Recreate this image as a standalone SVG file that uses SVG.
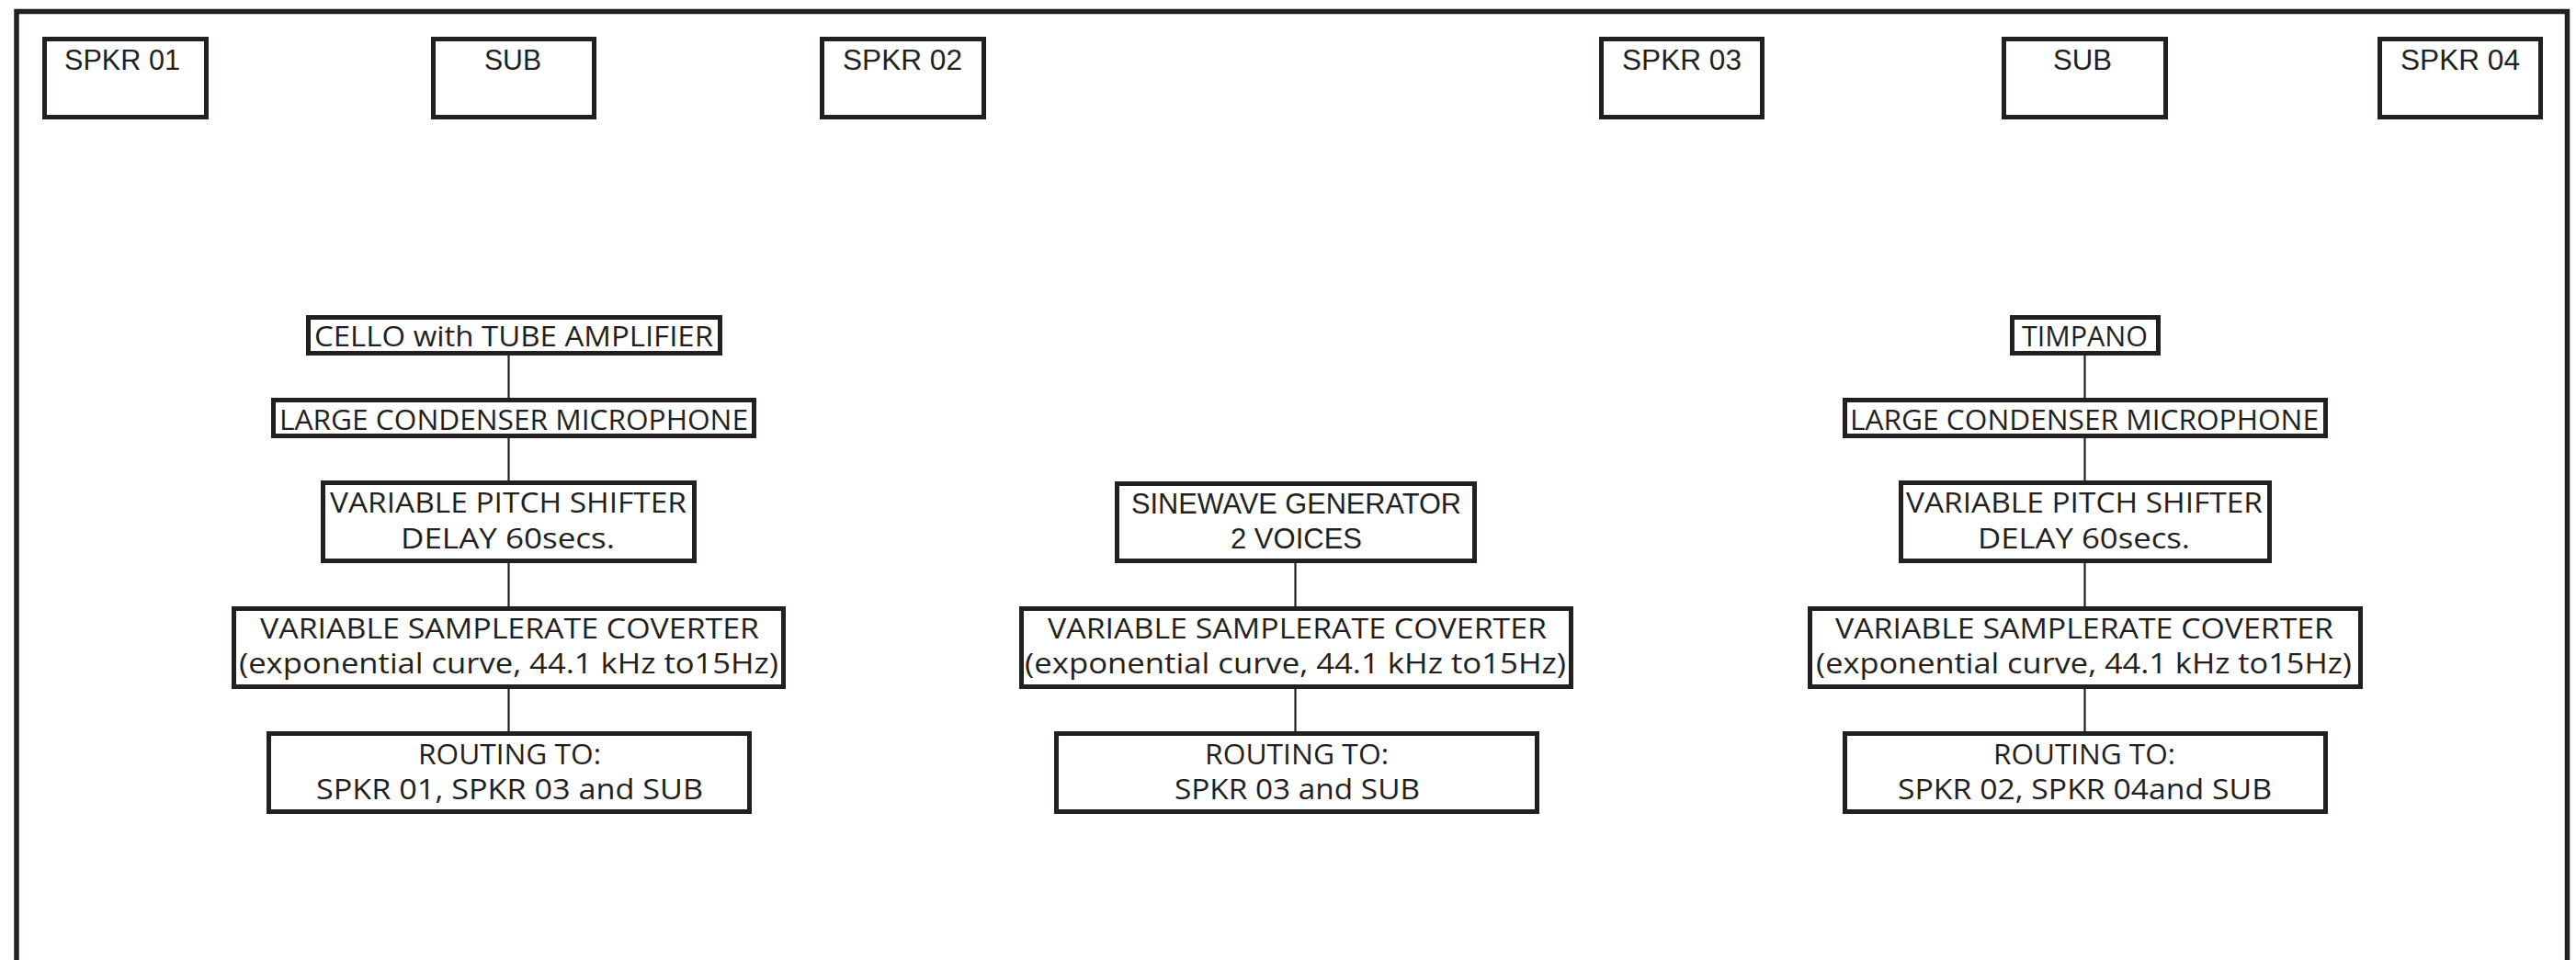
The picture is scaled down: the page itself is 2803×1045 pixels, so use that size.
<svg xmlns="http://www.w3.org/2000/svg" width="2803" height="1045" viewBox="0 0 2803 1045">
<style>
.box{fill:#fff;stroke:#231f20;stroke-width:5}
.frame{fill:none;stroke:#231f20;stroke-width:5.5}
.con{stroke:#231f20;stroke-width:2.2;fill:none}
text{font-family:"Open Sans","Liberation Sans",sans-serif;font-size:31px;fill:#231f20;text-anchor:middle}
.cond{font-family:"Liberation Sans Narrow","Liberation Sans",sans-serif}
.top{font-size:32px}
</style>
<rect width="2803" height="1045" fill="#fff"/>
<path class="frame" d="M18,1045 V12.5 H2793.5 V1045"/>

<g id="connectors">
<line class="con" x1="553.5" y1="387" x2="553.5" y2="433"/>
<line class="con" x1="553.5" y1="477" x2="553.5" y2="523"/>
<line class="con" x1="553.5" y1="613" x2="553.5" y2="660"/>
<line class="con" x1="553.5" y1="750" x2="553.5" y2="796"/>
<line class="con" x1="1409.5" y1="613" x2="1409.5" y2="660"/>
<line class="con" x1="1409.5" y1="750" x2="1409.5" y2="796"/>
<line class="con" x1="2268.5" y1="387" x2="2268.5" y2="433"/>
<line class="con" x1="2268.5" y1="477" x2="2268.5" y2="523"/>
<line class="con" x1="2268.5" y1="613" x2="2268.5" y2="660"/>
<line class="con" x1="2268.5" y1="750" x2="2268.5" y2="796"/>
</g>

<g id="spkr01"><rect class="box" x="48.5" y="42.5" width="176" height="85"/><text class="cond top" x="133" y="76" textLength="126" lengthAdjust="spacingAndGlyphs">SPKR 01</text></g>
<g id="sub1"><rect class="box" x="471.5" y="42.5" width="175" height="85"/><text class="cond top" x="558" y="76" textLength="62" lengthAdjust="spacingAndGlyphs">SUB</text></g>
<g id="spkr02"><rect class="box" x="894.5" y="42.5" width="176" height="85"/><text class="cond top" x="982" y="76" textLength="130" lengthAdjust="spacingAndGlyphs">SPKR 02</text></g>
<g id="spkr03"><rect class="box" x="1742.5" y="42.5" width="175" height="85"/><text class="cond top" x="1830" y="76" textLength="130" lengthAdjust="spacingAndGlyphs">SPKR 03</text></g>
<g id="sub2"><rect class="box" x="2180.5" y="42.5" width="176" height="85"/><text class="cond top" x="2266" y="76" textLength="64" lengthAdjust="spacingAndGlyphs">SUB</text></g>
<g id="spkr04"><rect class="box" x="2589.5" y="42.5" width="175" height="85"/><text class="cond top" x="2677" y="76" textLength="130" lengthAdjust="spacingAndGlyphs">SPKR 04</text></g>

<g id="cello"><rect class="box" x="335.5" y="345.5" width="448" height="39"/><text x="559" y="377" textLength="434" lengthAdjust="spacingAndGlyphs">CELLO with TUBE AMPLIFIER</text></g>
<g id="mic1"><rect class="box" x="297.5" y="435.5" width="523" height="39"/><text x="559" y="468" textLength="510" lengthAdjust="spacingAndGlyphs">LARGE CONDENSER MICROPHONE</text></g>
<g id="pitch1"><rect class="box" x="351.5" y="525.5" width="404" height="85"/><text x="553" y="558" textLength="388" lengthAdjust="spacingAndGlyphs">VARIABLE PITCH SHIFTER</text><text x="552.5" y="597" textLength="233" lengthAdjust="spacingAndGlyphs">DELAY 60secs.</text></g>
<g id="src1"><rect class="box" x="254.5" y="662.5" width="598" height="85"/><text x="554.5" y="695" textLength="543" lengthAdjust="spacingAndGlyphs">VARIABLE SAMPLERATE COVERTER</text><text x="553.5" y="733" textLength="587" lengthAdjust="spacingAndGlyphs">(exponential curve, 44.1 kHz to15Hz)</text></g>
<g id="route1"><rect class="box" x="292.5" y="798.5" width="523" height="85"/><text x="554.5" y="832" textLength="199" lengthAdjust="spacingAndGlyphs">ROUTING TO:</text><text x="554.5" y="870" textLength="421" lengthAdjust="spacingAndGlyphs">SPKR 01, SPKR 03 and SUB</text></g>

<g id="sine"><rect class="box" x="1215.5" y="526.5" width="389" height="84"/><text class="cond" x="1410.5" y="559" textLength="359" lengthAdjust="spacingAndGlyphs">SINEWAVE GENERATOR</text><text class="cond" x="1410.5" y="597" textLength="143" lengthAdjust="spacingAndGlyphs">2 VOICES</text></g>
<g id="src2"><rect class="box" x="1111.5" y="662.5" width="598" height="85"/><text x="1411.5" y="695" textLength="543" lengthAdjust="spacingAndGlyphs">VARIABLE SAMPLERATE COVERTER</text><text x="1409.5" y="733" textLength="589" lengthAdjust="spacingAndGlyphs">(exponential curve, 44.1 kHz to15Hz)</text></g>
<g id="route2"><rect class="box" x="1149.5" y="798.5" width="523" height="85"/><text x="1411" y="832" textLength="200" lengthAdjust="spacingAndGlyphs">ROUTING TO:</text><text x="1411.5" y="870" textLength="267" lengthAdjust="spacingAndGlyphs">SPKR 03 and SUB</text></g>

<g id="timpano"><rect class="box" x="2189.5" y="345.5" width="159" height="39"/><text x="2268.5" y="377" textLength="137" lengthAdjust="spacingAndGlyphs">TIMPANO</text></g>
<g id="mic2"><rect class="box" x="2007.5" y="435.5" width="523" height="39"/><text x="2268" y="468" textLength="510" lengthAdjust="spacingAndGlyphs">LARGE CONDENSER MICROPHONE</text></g>
<g id="pitch2"><rect class="box" x="2068.5" y="525.5" width="401" height="85"/><text x="2268" y="558" textLength="388" lengthAdjust="spacingAndGlyphs">VARIABLE PITCH SHIFTER</text><text x="2267.5" y="597" textLength="231" lengthAdjust="spacingAndGlyphs">DELAY 60secs.</text></g>
<g id="src3"><rect class="box" x="1969.5" y="662.5" width="599" height="85"/><text x="2268" y="695" textLength="542" lengthAdjust="spacingAndGlyphs">VARIABLE SAMPLERATE COVERTER</text><text x="2267.5" y="733" textLength="583" lengthAdjust="spacingAndGlyphs">(exponential curve, 44.1 kHz to15Hz)</text></g>
<g id="route3"><rect class="box" x="2007.5" y="798.5" width="523" height="85"/><text x="2268" y="832" textLength="198" lengthAdjust="spacingAndGlyphs">ROUTING TO:</text><text x="2268.5" y="870" textLength="407" lengthAdjust="spacingAndGlyphs">SPKR 02, SPKR 04and SUB</text></g>
</svg>
